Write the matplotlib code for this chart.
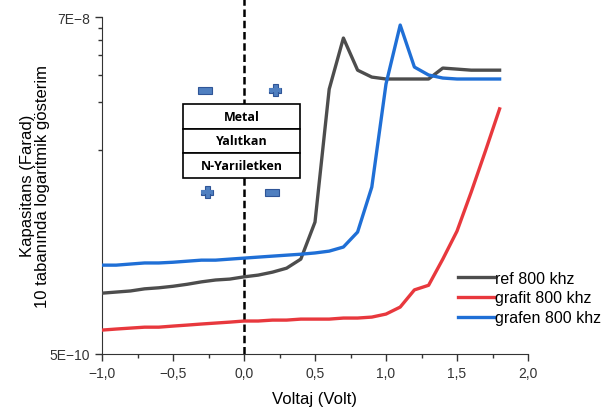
import matplotlib
matplotlib.use("Agg")
import matplotlib.pyplot as plt
from matplotlib.patches import Rectangle
from matplotlib.ticker import FixedLocator, FuncFormatter, MultipleLocator

plt.rcParams['font.family'] = ['Liberation Sans', 'DejaVu Sans']

# Voltage (V)
voltage = [-1.0, -0.9, -0.8, -0.7, -0.6, -0.5, -0.4, -0.3, -0.2, -0.1,
           0.0, 0.1, 0.2, 0.3, 0.4, 0.5, 0.6, 0.7, 0.8, 0.9,
           1.0, 1.1, 1.2, 1.3, 1.4, 1.5, 1.6, 1.7, 1.8]

# Capacitance (F)
ref_800 = [1.22e-9, 1.24e-9, 1.26e-9, 1.30e-9, 1.32e-9, 1.35e-9, 1.39e-9, 1.44e-9, 1.48e-9, 1.50e-9,
           1.55e-9, 1.59e-9, 1.66e-9, 1.76e-9, 2.01e-9, 3.46e-9, 2.43e-8, 5.14e-8, 3.21e-8, 2.90e-8,
           2.82e-8, 2.82e-8, 2.82e-8, 2.82e-8, 3.31e-8, 3.26e-8, 3.21e-8, 3.21e-8, 3.21e-8]
grafit_800 = [7.10e-10, 7.21e-10, 7.31e-10, 7.41e-10, 7.41e-10, 7.53e-10, 7.64e-10, 7.76e-10, 7.87e-10, 7.98e-10,
              8.11e-10, 8.11e-10, 8.22e-10, 8.22e-10, 8.34e-10, 8.34e-10, 8.34e-10, 8.47e-10, 8.47e-10, 8.59e-10,
              8.98e-10, 9.95e-10, 1.28e-9, 1.37e-9, 2.01e-9, 3.03e-9, 5.37e-9, 9.80e-9, 1.82e-8]
grafen_800 = [1.84e-9, 1.84e-9, 1.87e-9, 1.90e-9, 1.90e-9, 1.92e-9, 1.95e-9, 1.98e-9, 1.98e-9, 2.01e-9,
              2.04e-9, 2.07e-9, 2.10e-9, 2.13e-9, 2.16e-9, 2.20e-9, 2.26e-9, 2.40e-9, 2.99e-9, 5.78e-9,
              2.62e-8, 6.22e-8, 3.36e-8, 2.99e-8, 2.86e-8, 2.82e-8, 2.82e-8, 2.82e-8, 2.82e-8]

layers = ['Metal', 'Yalıtkan', 'N-Yarıiletken']

W, H = 604, 414
fig = plt.figure(figsize=(W / 100, H / 100), dpi=100)
ax = fig.add_axes([102 / W, 1 - 355 / H, 426 / W, 337 / H])

ax.plot(voltage, ref_800, color='#4d4d4d', lw=2.4, label='ref 800 khz', zorder=3)
ax.plot(voltage, grafit_800, color='#e8383d', lw=2.4, label='grafit 800 khz', zorder=3)
ax.plot(voltage, grafen_800, color='#1f6fd6', lw=2.4, label='grafen 800 khz', zorder=3)

ax.set_yscale('log')
ax.set_xlim(-1.0, 2.0)
ax.set_ylim(5e-10, 7e-8)

ax.yaxis.set_major_locator(FixedLocator([5e-10, 7e-8]))
ax.yaxis.set_major_formatter(FuncFormatter(lambda v, p: {5e-10: '5E\u221210', 7e-8: '7E\u22128'}.get(v, '')))
ax.yaxis.set_minor_locator(FixedLocator([6e-8, 5e-8, 4e-8, 3e-8, 2e-8, 1e-8]))
ax.yaxis.set_minor_formatter(FuncFormatter(lambda v, p: ''))

ax.xaxis.set_major_locator(MultipleLocator(0.5))
ax.xaxis.set_minor_locator(MultipleLocator(0.25))
ax.xaxis.set_major_formatter(FuncFormatter(lambda v, p: f'{v:.1f}'.replace('.', ',').replace('-', '\u2212')))

ax.tick_params(which='major', direction='out', length=5, width=1, labelsize=10, colors='#333333')
ax.tick_params(which='minor', direction='out', length=3, width=1, colors='#333333')
for s in ['top', 'right']:
    ax.spines[s].set_visible(False)
for s in ['left', 'bottom']:
    ax.spines[s].set_color('#333333')

ax.set_xlabel('Voltaj (Volt)', fontsize=12, labelpad=8)
fig.text(35 / W, 1 - 186 / H, 'Kapasitans (Farad)\n10 tabanında logaritmik gösterim',
         rotation=90, ha='center', va='center', fontsize=12, linespacing=1.08)

# dashed zero line reaching above the plot
ax.axvline(0, ymin=0, ymax=1.055, color='black', lw=1.8, ls=(0, (3, 1.5)), clip_on=False, zorder=2)

ax.legend(loc='center left', bbox_to_anchor=(452 / W, 1 - 299 / H), bbox_transform=fig.transFigure,
          frameon=False, fontsize=11.5, handlelength=2.2, handletextpad=0.1, labelspacing=0.3,
          borderaxespad=0)

# MOS sketch overlay in pixel coordinates
ov = fig.add_axes([0, 0, 1, 1], facecolor='none')
ov.set_xlim(0, W)
ov.set_ylim(H, 0)
ov.axis('off')

bx, by, bw, rh = 183, 105, 117, 24.5
for i, name in enumerate(layers):
    ov.add_patch(Rectangle((bx, by + i * rh), bw, rh, facecolor='white', edgecolor='black', lw=1.2, zorder=5))
    ov.text(bx + bw / 2, by + i * rh + rh / 2, name, ha='center', va='center', fontsize=9,
            fontweight='bold', family=['Open Sans', 'DejaVu Sans'], zorder=6)

sign_fc, sign_ec = '#4f7fc0', '#2f5597'


def minus(cx, cy):
    ov.add_patch(Rectangle((cx - 7, cy - 3.5), 14, 7, facecolor=sign_fc, edgecolor=sign_ec, lw=0.8, zorder=5))


def plus(cx, cy):
    ov.add_patch(Rectangle((cx - 6, cy - 2.5), 12, 5, facecolor=sign_fc, edgecolor=sign_ec, lw=0.8, zorder=5))
    ov.add_patch(Rectangle((cx - 2.5, cy - 6), 5, 12, facecolor=sign_fc, edgecolor=sign_ec, lw=0.8, zorder=5))
    ov.add_patch(Rectangle((cx - 5.6, cy - 2.1), 11.2, 4.2, facecolor=sign_fc, edgecolor='none', zorder=6))


minus(205, 91)
plus(275, 91)
plus(207, 193)
minus(272, 193)

fig.savefig('out.png', dpi=100)
